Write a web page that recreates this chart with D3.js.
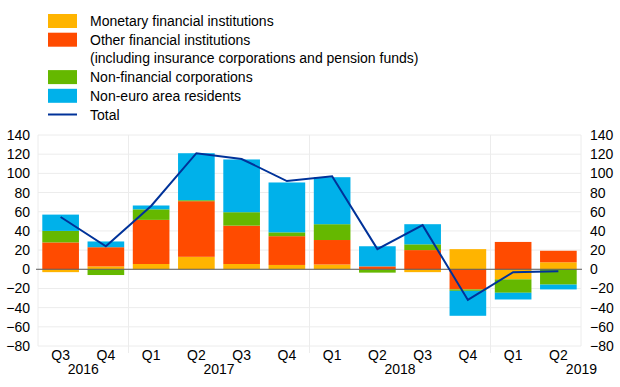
<!DOCTYPE html>
<html>
<head>
<meta charset="utf-8">
<script src="https://cdn.jsdelivr.net/npm/d3@7"></script>
<style>
  body { margin: 0; background: #fff; }
  svg { font-family: "Liberation Sans", Arial, sans-serif; }
</style>
</head>
<body>
<svg id="chart" width="620" height="387"></svg>
<script>
// quarters and the year each belongs to
const quarters = ['Q3', 'Q4', 'Q1', 'Q2', 'Q3', 'Q4', 'Q1', 'Q2', 'Q3', 'Q4', 'Q1', 'Q2']
const years = ['2016', '2016', '2017', '2017', '2017', '2017', '2018', '2018', '2018', '2018', '2019', '2019']

// EUR billions
const mfi = [-3, 3, 5.5, 13, 5.5, 4.5, 5, -0.5, -3, 21, -10.5, 7.3]
const ofi = [28, 20, 46, 58, 40, 30, 25.5, 3, 20, -21, 28.5, 12]
const nfc = [12, -6, 11, 1, 14, 4, 16.5, -3, 6, -1.5, -14, -16]
const ner = [17, 6, 4, 49, 55, 52, 49, 21, 21, -26, -7, -5]
const total = [54.5, 24, 66, 121, 115, 92, 97, 21, 46, -32, -3, -2]

const yTicks = [-80, -60, -40, -20, 0, 20, 40, 60, 80, 100, 120, 140]

const seriesInfo = [
    { key: 'mfi', label: ['Monetary financial institutions'], color: '#ffb400' },
    { key: 'ofi', label: ['Other financial institutions', '(including insurance corporations and pension funds)'], color: '#ff4b00' },
    { key: 'nfc', label: ['Non-financial corporations'], color: '#65b800' },
    { key: 'ner', label: ['Non-euro area residents'], color: '#00b1ea' }
]
const lineColor = '#003299'

const rows = quarters.map((q, i) => ({ i, mfi: mfi[i], ofi: ofi[i], nfc: nfc[i], ner: ner[i], total: total[i] }))

const svg = d3.select('#chart')
const margin = { top: 135, right: 39, bottom: 41, left: 38 }
const width = 620 - margin.left - margin.right
const height = 387 - margin.top - margin.bottom

const x = d3.scaleBand().domain(rows.map(d => d.i)).range([0, width]).paddingInner(0.19).paddingOuter(0.095)
const y = d3.scaleLinear().domain([-80, 140]).range([height, 0])

const plot = svg.append('g').attr('transform', `translate(${margin.left},${margin.top})`)

// grid
plot.append('g').selectAll('line').data(yTicks).join('line')
    .attr('x1', 0).attr('x2', width)
    .attr('y1', d => y(d)).attr('y2', d => y(d))
    .attr('stroke', '#ececec').attr('stroke-width', 1)

// frame sides + year separators
const step = x.step()
plot.append('g').selectAll('line').data([0, width]).join('line')
    .attr('x1', d => d).attr('x2', d => d)
    .attr('y1', 0).attr('y2', height)
    .attr('stroke', '#ececec')
const sepIdx = years.map((yr, i) => i > 0 && yr !== years[i - 1] ? i : null).filter(d => d !== null)
plot.append('g').selectAll('line').data(sepIdx).join('line')
    .attr('x1', d => x(d) - step * x.paddingInner() / 2).attr('x2', d => x(d) - step * x.paddingInner() / 2)
    .attr('y1', 0).attr('y2', height + 7)
    .attr('stroke', '#ececec')

// stacked bars
const stack = d3.stack().keys(seriesInfo.map(s => s.key)).offset(d3.stackOffsetDiverging)
const stacked = stack(rows)
plot.append('g').selectAll('g').data(stacked).join('g')
    .attr('fill', (d, k) => seriesInfo[k].color)
    .selectAll('rect').data(d => d).join('rect')
    .attr('x', d => x(d.data.i))
    .attr('width', x.bandwidth())
    .attr('y', d => y(Math.max(d[0], d[1])))
    .attr('height', d => Math.abs(y(d[0]) - y(d[1])))

// zero line
plot.append('line')
    .attr('x1', -2).attr('x2', width + 1)
    .attr('y1', y(0)).attr('y2', y(0))
    .attr('stroke', '#5a5a5a').attr('stroke-width', 1)

// total line
const lineGen = d3.line().x(d => x(d.i) + x.bandwidth() / 2).y(d => y(d.total))
plot.append('path').datum(rows)
    .attr('d', lineGen)
    .attr('fill', 'none')
    .attr('stroke', lineColor)
    .attr('stroke-width', 2)

// axes
const axisL = d3.axisLeft(y).tickValues(yTicks).tickSize(0).tickPadding(8)
const axisR = d3.axisRight(y).tickValues(yTicks).tickSize(0).tickPadding(9)
const gl = plot.append('g').call(axisL)
const gr = plot.append('g').attr('transform', `translate(${width},0)`).call(axisR)
;[gl, gr].forEach(g => {
    g.select('.domain').remove()
    g.selectAll('text').attr('font-size', 14).attr('fill', '#000').attr('font-family', '"Liberation Sans", Arial, sans-serif')
})

const axisB = d3.axisBottom(x).tickFormat(i => quarters[i]).tickSize(0).tickPadding(4)
const gb = plot.append('g').attr('transform', `translate(0,${height})`).call(axisB)
gb.select('.domain').remove()
gb.selectAll('text').attr('font-size', 14).attr('fill', '#000').attr('font-family', '"Liberation Sans", Arial, sans-serif')

// year labels
const yearGroups = d3.groups(rows, d => years[d.i])
plot.append('g').selectAll('text').data(yearGroups).join('text')
    .attr('x', (g, k) => {
        const first = g[1][0].i, last = g[1][g[1].length - 1].i
        if (k === yearGroups.length - 1) return width + 16
        return (x(first) + x(last) + x.bandwidth()) / 2
    })
    .attr('text-anchor', (g, k) => k === yearGroups.length - 1 ? 'end' : 'middle')
    .attr('y', height + 28)
    .attr('font-size', 14)
    .text(g => g[0])

// legend
const legendItems = []
seriesInfo.forEach(s => {
    s.label.forEach((t, j) => legendItems.push({ text: t, color: j === 0 ? s.color : null, type: j === 0 ? 'rect' : null }))
})
legendItems.push({ text: 'Total', color: lineColor, type: 'line' })

const legend = svg.append('g').attr('transform', 'translate(48,21)')
const item = legend.selectAll('g').data(legendItems).join('g')
    .attr('transform', (d, k) => `translate(0,${k * 18.7})`)
item.filter(d => d.type === 'rect').append('rect')
    .attr('x', 0).attr('y', -7).attr('width', 29).attr('height', 14)
    .attr('fill', d => d.color)
item.filter(d => d.type === 'line').append('line')
    .attr('x1', 0).attr('x2', 29).attr('y1', 0).attr('y2', 0)
    .attr('stroke', d => d.color).attr('stroke-width', 2)
item.append('text')
    .attr('x', 42).attr('y', 5)
    .attr('font-size', 14)
    .text(d => d.text)
</script>
</body>
</html>
